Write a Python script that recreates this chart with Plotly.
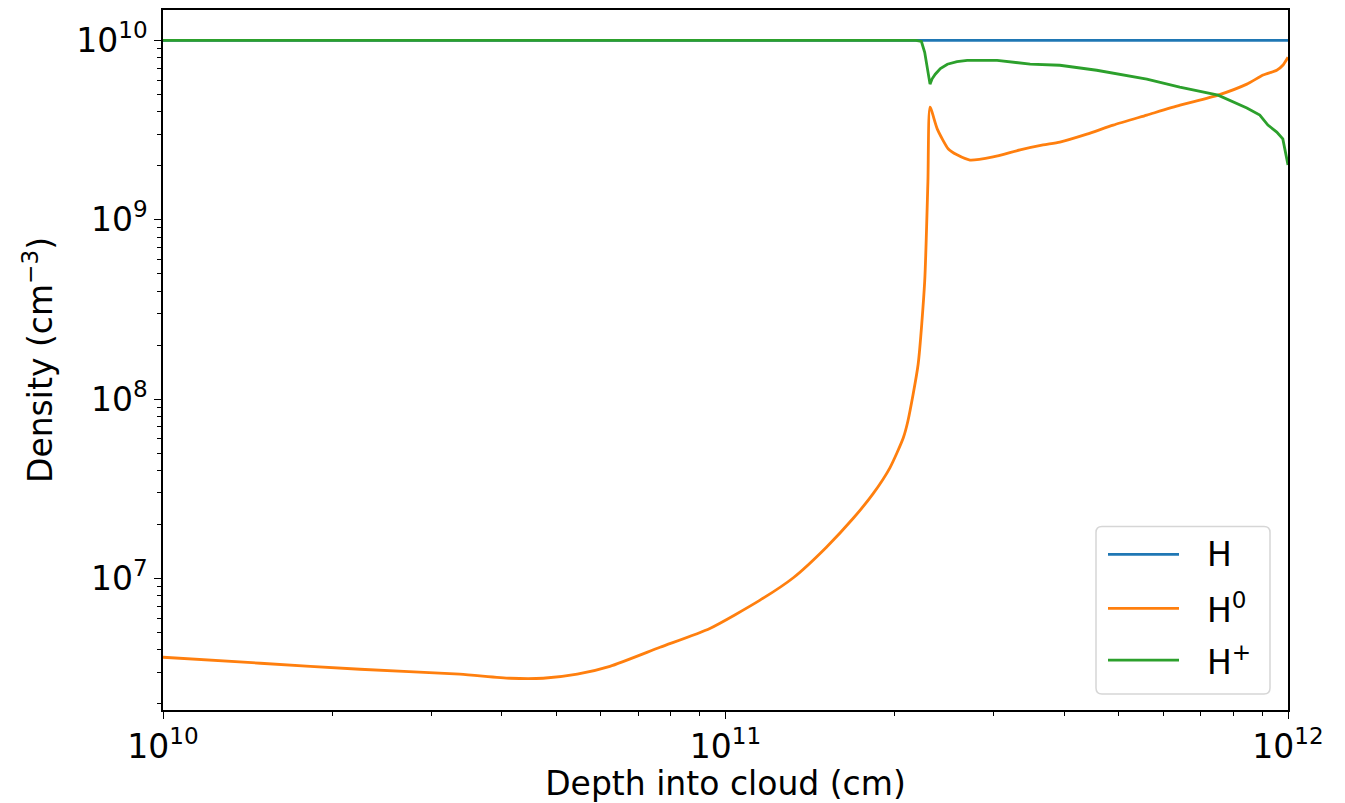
import plotly.graph_objects as go

# Depth grid and hydrogen densities (cm^-3)
h_depth = [1.0e10, 1.0e12]
h_total = [1.0e10, 1.0e10]

h0_depth = [1.00e10, 1.49e10, 2.24e10, 3.37e10, 4.14e10, 4.74e10, 5.45e10, 6.23e10,
            7.65e10, 9.38e10, 1.15e11, 1.32e11, 1.51e11, 1.69e11, 1.83e11, 1.96e11,
            2.07e11, 2.11e11, 2.20e11, 2.26e11, 2.29e11, 2.31e11, 2.38e11, 2.49e11,
            2.58e11, 2.72e11, 2.99e11, 3.34e11, 3.67e11, 3.93e11, 4.39e11, 4.89e11,
            5.61e11, 6.43e11, 7.51e11, 8.45e11, 9.03e11, 9.55e11, 9.79e11, 1.00e12]
h0_density = [3.64e6, 3.37e6, 3.12e6, 2.93e6, 2.78e6, 2.78e6, 2.93e6, 3.24e6,
              4.14e6, 5.27e6, 7.55e6, 1.01e7, 1.49e7, 2.18e7, 2.97e7, 4.14e7,
              6.07e7, 7.55e7, 1.56e8, 4.53e8, 1.63e9, 4.24e9, 3.20e9, 2.48e9,
              2.30e9, 2.15e9, 2.24e9, 2.45e9, 2.61e9, 2.71e9, 3.00e9, 3.37e9,
              3.83e9, 4.35e9, 4.95e9, 5.70e9, 6.40e9, 6.81e9, 7.26e9, 8.05e9]

hp_depth = [1.00e10, 2.18e11, 2.23e11, 2.26e11, 2.31e11, 2.33e11, 2.36e11, 2.41e11,
            2.48e11, 2.58e11, 2.69e11, 3.04e11, 3.48e11, 3.93e11, 4.57e11, 5.61e11,
            6.42e11, 7.51e11, 8.45e11, 8.91e11, 9.21e11, 9.55e11, 9.79e11, 1.00e12]
hp_density = [1.00e10, 1.00e10, 9.85e9, 8.58e9, 5.70e9, 6.10e9, 6.47e9, 6.95e9,
              7.36e9, 7.60e9, 7.74e9, 7.74e9, 7.36e9, 7.26e9, 6.81e9, 6.07e9,
              5.48e9, 4.95e9, 4.19e9, 3.83e9, 3.37e9, 3.08e9, 2.82e9, 2.02e9]

series_names = ["H", "H<sup>0</sup>", "H<sup>+</sup>"]
series_colors = ["#1f77b4", "#ff7f0e", "#2ca02c"]
series_shapes = ["linear", "spline", "linear"]

x_major = [1e10, 1e11, 1e12]
x_major_text = ["10<sup>10</sup>", "10<sup>11</sup>", "10<sup>12</sup>"]
y_major = [1e7, 1e8, 1e9, 1e10]
y_major_text = ["10<sup>7</sup>", "10<sup>8</sup>", "10<sup>9</sup>", "10<sup>10</sup>"]

x_minor = [m * 10.0 ** e for e in (10, 11) for m in range(2, 10)]
y_minor = [m * 10.0 ** e for e in (6, 7, 8, 9) for m in range(2, 10)]

FONT = "DejaVu Sans"
FS = 33
W, H = 1345, 803
ML, MR, MT, MB = 163, 57, 8, 93
PW, PH = W - ML - MR, H - MT - MB


def px(xp):
    """Pixel column -> paper x."""
    return (xp - ML) / PW


def py(yp):
    """Pixel row -> paper y."""
    return (H - MB - yp) / PH


fig = go.Figure()
series = [(h_depth, h_total), (h0_depth, h0_density), (hp_depth, hp_density)]
for i, (xs, ys) in enumerate(series):
    fig.add_trace(go.Scatter(
        x=xs, y=ys, mode="lines", name=series_names[i], showlegend=False,
        line=dict(color=series_colors[i], width=2.8, shape=series_shapes[i], smoothing=0.6),
    ))

axis_common = dict(
    showgrid=False, zeroline=False,
    showline=True, linecolor="black", linewidth=1.5, mirror=True,
    ticks="outside", ticklen=7, tickwidth=1.3, tickcolor="black",
    tickfont=dict(family=FONT, size=FS, color="black"),
)

fig.update_xaxes(
    type="log", range=[10, 12],
    tickvals=x_major, ticktext=x_major_text,
    minor=dict(tickvals=x_minor, ticks="outside", ticklen=4, tickwidth=1.1, tickcolor="black"),
    title=dict(text="Depth into cloud (cm)", font=dict(family=FONT, size=FS, color="black"), standoff=6),
    **axis_common,
)
fig.update_yaxes(
    type="log", range=[6.267, 10.169],
    tickvals=y_major, ticktext=y_major_text,
    minor=dict(tickvals=y_minor, ticks="outside", ticklen=4, tickwidth=1.1, tickcolor="black"),
    title=dict(text="Density (cm<sup>\u22123</sup>)", font=dict(family=FONT, size=FS, color="black"), standoff=14),
    **axis_common,
)

# Legend box with rounded corners, sample lines and labels
bx0, bx1, by0, by1, r = 1096, 1270, 526, 694, 6
rx, ry = r / PW, r / PH
X0, X1, Y0, Y1 = px(bx0), px(bx1), py(by1), py(by0)
box_path = (f"M {X0 + rx},{Y0} L {X1 - rx},{Y0} Q {X1},{Y0} {X1},{Y0 + ry} "
            f"L {X1},{Y1 - ry} Q {X1},{Y1} {X1 - rx},{Y1} L {X0 + rx},{Y1} "
            f"Q {X0},{Y1} {X0},{Y1 - ry} L {X0},{Y0 + ry} Q {X0},{Y0} {X0 + rx},{Y0} Z")
shapes = [dict(type="path", xref="paper", yref="paper", path=box_path,
               fillcolor="rgba(255,255,255,0.8)", line=dict(color="#d6d6d6", width=1.5))]
annotations = []
entry_rows = [554, 608, 660]
for i, row in enumerate(entry_rows):
    shapes.append(dict(type="line", xref="paper", yref="paper",
                       x0=px(1108), x1=px(1179), y0=py(row), y1=py(row),
                       line=dict(color=series_colors[i], width=2.8)))
    annotations.append(dict(xref="paper", yref="paper", x=px(1205), y=py(row),
                            xanchor="left", yanchor="middle", showarrow=False,
                            text=series_names[i],
                            font=dict(family=FONT, size=FS, color="black")))

fig.update_layout(
    width=W, height=H,
    margin=dict(l=ML, r=MR, t=MT, b=MB),
    paper_bgcolor="white", plot_bgcolor="white",
    showlegend=False,
    shapes=shapes, annotations=annotations,
)

fig.write_html("out.html")
